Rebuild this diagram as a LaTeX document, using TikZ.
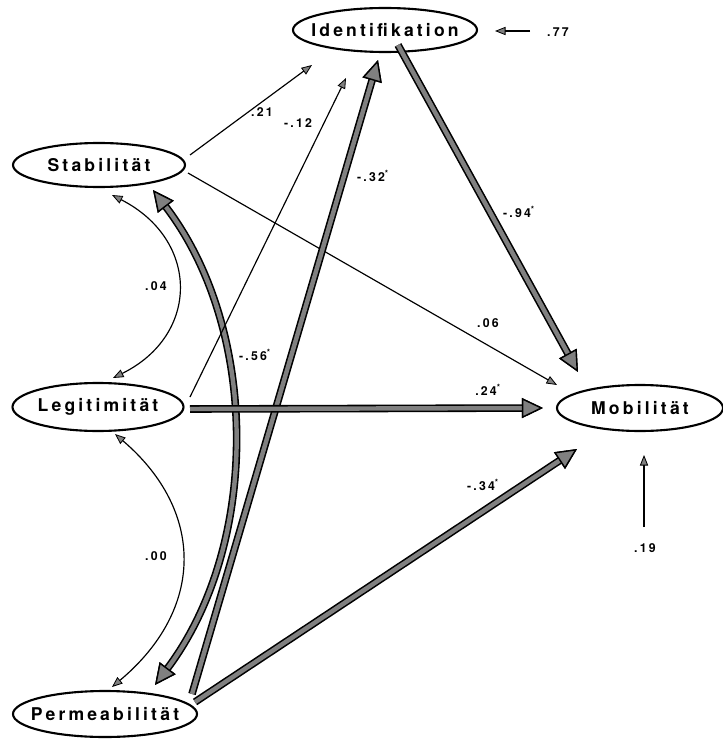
\documentclass[tikz,border=0pt]{standalone}
\usepackage{fontspec}
\newfontfamily\varfont[LetterSpace=18]{TeX Gyre Heros}
\newfontfamily\coeffont[LetterSpace=18]{TeX Gyre Heros}
\usetikzlibrary{shapes.geometric,arrows.meta}

\begin{document}
\begin{tikzpicture}[x=0.03cm, y=-0.03cm,
    var/.style={ellipse, draw, line width=1.8pt, inner sep=0pt, outer sep=0pt},
    every label/.style={font=\varfont\bfseries\fontsize{15}{18}\selectfont},
    coef/.style={font=\coeffont\bfseries\fontsize{10.5}{12}\selectfont, inner sep=1pt},
    smallhead/.tip={Triangle[length=9pt, width=7pt, fill=gray, color=black, line width=0.7pt]},
    bighead/.tip={Triangle[length=18pt, width=17pt, fill=black!50, color=black, line width=1.2pt]},
    effect/.style={line width=1pt, -smallhead},
    heavy/.style={line width=3.8pt, draw=black!50, -bighead, preaction={draw=black, line width=6.5pt}}]
  \useasboundingbox (0,0) rectangle (722,740);

  \node[var, minimum width=5.52cm, minimum height=1.32cm, label=center:Identifikation] (id) at (385,30) {};
  \node[var, minimum width=5.16cm, minimum height=1.32cm, label=center:Stabilität] (stab) at (99,165) {};
  \node[var, minimum width=5.13cm, minimum height=1.44cm, label=center:Legitimität] (leg) at (98,407) {};
  \node[var, minimum width=5.52cm, minimum height=1.38cm, label=center:Permeabilität] (perm) at (105,714) {};
  \node[var, minimum width=4.98cm, minimum height=1.38cm, label=center:Mobilität] (mob) at (640,408) {};
  \coordinate (e77) at (530,31);
  \coordinate (e19) at (644,527);

  % correlations between the exogenous variables
  \draw[effect, smallhead-smallhead] ([shift={(13,30)}]stab.center) .. controls +(88,45) and +(87,-43) .. ([shift={(15,-29)}]leg.center);
  \draw[effect, smallhead-smallhead] ([shift={(17,27)}]leg.center) .. controls +(90,77) and +(93,-78) .. ([shift={(7,-27)}]perm.center);
  \draw[heavy, bighead-bighead] ([shift={(54,25)}]stab.center) .. controls +(107,140) and +(105,-140) .. ([shift={(50,-29)}]perm.center);

  % paths
  \draw[effect] ([shift={(91,-10)}]stab.center) -- ([shift={(-73,35)}]id.center);
  \draw[effect] ([shift={(92,-10)}]leg.center) -- ([shift={(-39,48)}]id.center);
  \draw[effect] ([shift={(89,8)}]stab.center) -- ([shift={(-83,-23)}]mob.center);
  \draw[heavy] ([shift={(87,-20)}]perm.center) -- ([shift={(-7,30)}]id.center);
  \draw[heavy] ([shift={(13,15)}]id.center) -- ([shift={(-62,-36)}]mob.center);
  \draw[heavy] ([shift={(92,2)}]leg.center) -- ([shift={(-97,0)}]mob.center);
  \draw[heavy] ([shift={(90,-12)}]perm.center) -- ([shift={(-63,41)}]mob.center);
  \draw[effect] (e77) -- ([shift={(110,1)}]id.center);
  \draw[effect] (e19) -- ([shift={(4,47)}]mob.center);

  \foreach \n/\x/\y/\t in {c21/262/112/.21, c12/298/123/-.12, c32/373/176/{-.32\textsuperscript{*}},
      c56/255/355/{-.56\textsuperscript{*}}, c04/156/286/.04, c00/156/556/.00, c06/488/323/.06,
      c24/488/390/{.24\textsuperscript{*}}, c94/519/212/{-.94\textsuperscript{*}},
      c34/483/485/{-.34\textsuperscript{*}}, c19/645/548/.19, c77/558/32/.77}
    \node[coef] (\n) at (\x,\y) {\t};
\end{tikzpicture}
\end{document}
